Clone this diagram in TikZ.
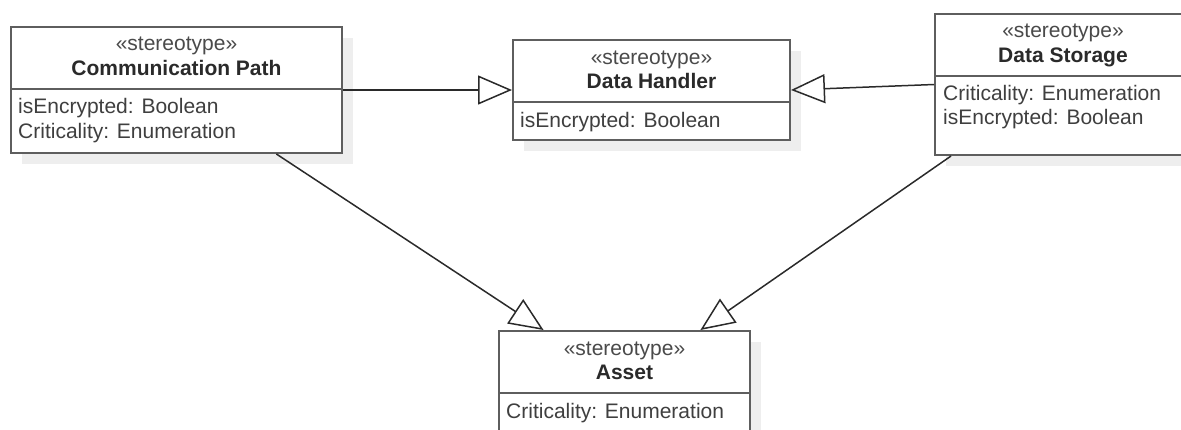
\documentclass[tikz,border=0pt]{standalone}
\usepackage{fontspec}
\setmainfont{Liberation Sans}
\usetikzlibrary{arrows.meta,calc,shadows}
\definecolor{boxgray}{HTML}{5E5E5E}
\definecolor{ink}{HTML}{2A2A2A}
\definecolor{shade}{HTML}{EEEEEE}
\tikzset{
  umlbox/.style={draw=boxgray, line width=2pt, fill=white, rectangle,
    anchor=north west, inner sep=0pt,
    drop shadow={shadow xshift=11pt, shadow yshift=-11pt, fill=shade, opacity=1}},
  divider/.style={draw=boxgray, line width=2pt},
  stereo/.style={anchor=base, inner sep=0pt, text=ink!85,
    font=\fontsize{21}{25}\selectfont},
  title/.style={anchor=base, inner sep=0pt, text=ink,
    font=\fontsize{21}{25}\selectfont\bfseries},
  attr/.style={anchor=base west, inner sep=0pt, text=ink!90,
    font=\fontsize{21}{25}\selectfont},
  generalize/.style={draw=ink, line width=1.5pt,
    -{Triangle[open, length=34pt, width=29pt]}}
}
\begin{document}
\begin{tikzpicture}[x=1pt, y=-1pt]
\useasboundingbox (0,0) rectangle (1181,429);
\clip (0,0) rectangle (1181,429);

% class boxes
\node[umlbox, minimum width=331pt, minimum height=126pt] (cp) at (10,26) {};
\node[umlbox, minimum width=277pt, minimum height=100pt] (dh) at (512,39) {};
\node[umlbox, minimum width=256pt, minimum height=141pt] (ds) at (934,13) {};
\node[umlbox, minimum width=251pt, minimum height=122pt] (as) at (498,330) {};

% compartment dividers
\foreach \b in {cp,dh,ds,as}
  \draw[divider] ($(\b.north west)+(0,63)$) -- ($(\b.north east)+(0,63)$);

% Communication Path
\node[stereo] (cp-st) at ($(cp.north)+(0,24)$) {«stereotype»};
\node[title]  (cp-ti) at ($(cp.north)+(0,49)$) {Communication Path};
\node[attr]   (cp-a1) at ($(cp.north west)+(8,87)$) {isEncrypted: Boolean};
\node[attr]   (cp-a2) at ($(cp.north west)+(8,112)$) {Criticality: Enumeration};

% Data Handler
\node[stereo] (dh-st) at ($(dh.north)+(0,25)$) {«stereotype»};
\node[title]  (dh-ti) at ($(dh.north)+(0,49)$) {Data Handler};
\node[attr]   (dh-a1) at ($(dh.north west)+(8,88)$) {isEncrypted: Boolean};

% Data Storage
\node[stereo] (ds-st) at ($(ds.north)+(0,24)$) {«stereotype»};
\node[title]  (ds-ti) at ($(ds.north)+(0,49)$) {Data Storage};
\node[attr]   (ds-a1) at ($(ds.north west)+(9,87)$) {Criticality: Enumeration};
\node[attr]   (ds-a2) at ($(ds.north west)+(9,111)$) {isEncrypted: Boolean};

% Asset
\node[stereo] (as-st) at ($(as.north)+(0,25)$) {«stereotype»};
\node[title]  (as-ti) at ($(as.north)+(0,49)$) {Asset};
\node[attr]   (as-a1) at ($(as.north west)+(8,88)$) {Criticality: Enumeration};

% generalizations
\draw[generalize] (cp.east) -- (dh.west);
\draw[generalize] (ds.west) -- (dh.east);
\draw[generalize] ($(cp.south west)!0.8!(cp.south east)$) -- ($(as.north west)!0.18!(as.north east)$);
\draw[generalize] ($(ds.south west)!0.066!(ds.south east)$) -- ($(as.north west)!0.8!(as.north east)$);
\end{tikzpicture}
\end{document}
